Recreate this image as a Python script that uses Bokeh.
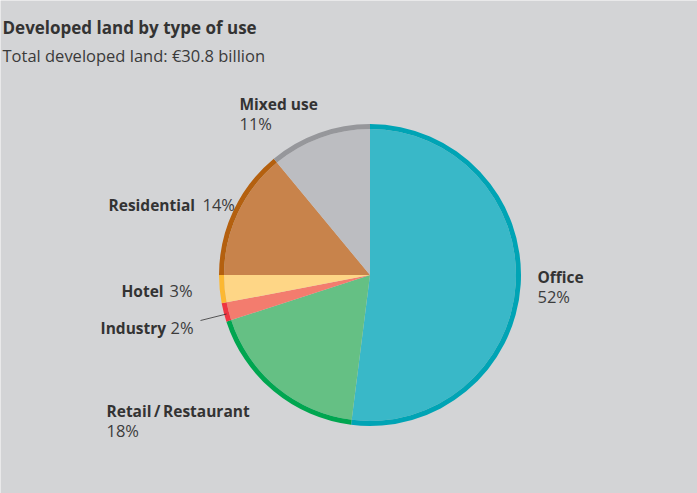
import math
import re
from bokeh.plotting import figure
from bokeh.models import Range1d
from bokeh.embed import file_html
from bokeh.resources import INLINE
from bokeh.core.properties import value

# ---- data ----
categories = ["Office", "Retail / Restaurant", "Industry", "Hotel", "Residential", "Mixed use"]
shares = [52, 18, 2, 3, 14, 11]
fill_colors = ["#39b8c8", "#65c084", "#f37c6e", "#fed686", "#c8834b", "#bcbdc1"]
ring_colors = ["#00a4b5", "#00a650", "#ee3642", "#fcb832", "#b4600f", "#96979b"]
title = "Developed land by type of use"
subtitle = "Total developed land: \u20ac30.8 billion"

# ---- layout ----
W, H = 697, 493
BG = "#d3d4d6"
FONT = "Open Sans"
TXT_DY = -6  # text baseline correction

def X(px):
    return px

def Y(py):
    return H - py

def TY(py):
    return H - (py + TXT_DY)

cx, cy = X(369.5), Y(274.5)
R_out, R_in = 151, 146

p = figure(width=W, height=H, output_backend="svg", toolbar_location=None,
           x_range=Range1d(0, W), y_range=Range1d(0, H),
           background_fill_color=BG, border_fill_color=BG,
           outline_line_color=None, min_border=0)
p.axis.visible = False
p.grid.visible = False

total = float(sum(shares))
starts, ends = [], []
cum = 0.0
for s in shares:
    starts.append(math.pi / 2 - 2 * math.pi * cum / total)
    cum += s
    ends.append(math.pi / 2 - 2 * math.pi * cum / total)

n = len(shares)
p.wedge(x=[cx] * n, y=[cy] * n, radius=R_in, start_angle=starts, end_angle=ends,
        direction="clock", fill_color=fill_colors, line_color=None)
p.annular_wedge(x=[cx] * n, y=[cy] * n, inner_radius=R_in, outer_radius=R_out,
                start_angle=starts, end_angle=ends, direction="clock",
                fill_color=ring_colors, line_color=None)

# leader line for Industry
p.line(x=[X(200), X(226)], y=[Y(320), Y(313.5)], line_color="#333333", line_width=0.8)

# titles
p.text(x=[X(2)], y=[TY(33)], text=[title], text_font=value(FONT), text_font_style="bold",
       text_font_size="17px", text_color="#333333", text_baseline="alphabetic")
p.text(x=[X(2)], y=[TY(61)], text=[subtitle], text_font=value(FONT),
       text_font_size="16.5px", text_color="#3a3a3a", text_baseline="alphabetic")

# labels
name_labels = ["Office", "Retail\u2009/\u2009Restaurant", "Industry", "Hotel", "Residential", "Mixed use"]
pct_labels = [f"{s}%" for s in shares]
name_xy = [(537, 282), (106, 416), (100, 333), (121, 296), (108, 210), (239, 109)]
pct_xy = [(537, 302), (106, 436), (170, 333), (169, 296), (202, 210), (239, 129)]

p.text(x=[X(a) for a, b in name_xy], y=[TY(b) for a, b in name_xy], text=name_labels,
       text_font=value(FONT), text_font_style="bold", text_font_size="15.5px",
       text_color="#333333", text_baseline="alphabetic")
p.text(x=[X(a) for a, b in pct_xy], y=[TY(b) for a, b in pct_xy], text=pct_labels,
       text_font=value(FONT), text_font_size="16.5px",
       text_color="#3c3c3c", text_baseline="alphabetic")

html = file_html(p, INLINE)
html = re.sub(r"<body([^>]*)>", r'<body\1 style="margin:0;background:%s">' % BG, html, count=1)
open("out.html", "w").write(html)
